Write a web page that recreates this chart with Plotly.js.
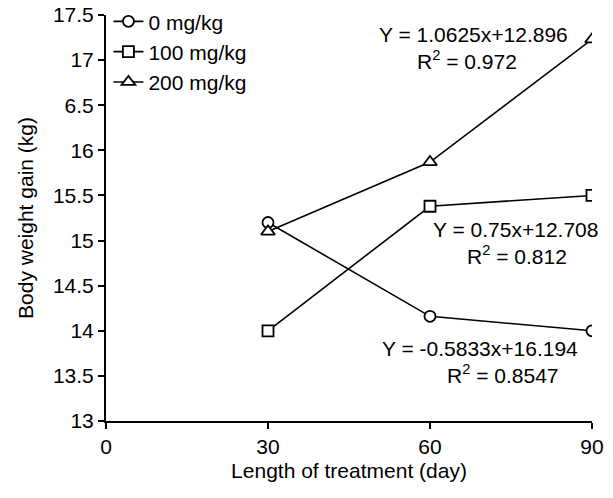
<!DOCTYPE html>
<html>
<head>
<meta charset="utf-8">
<script src="https://cdn.plot.ly/plotly-3.0.1.min.js"></script>
<style>html,body{margin:0;padding:0;background:#fff;}</style>
</head>
<body>
<div id="chart" style="width:613px;height:498px;"></div>
<script>
const days = [30, 60, 90];
const seriesNames = ["0 mg/kg", "100 mg/kg", "200 mg/kg"];
const gain0 = [15.2, 14.16, 14.0];
const gain100 = [14.0, 15.38, 15.5];
const gain200 = [15.1, 15.87, 17.23];
const yTickVals = [13, 13.5, 14, 14.5, 15, 15.5, 16, 16.5, 17, 17.5];
const yTickText = ["13", "13.5", "14", "14.5", "15", "15.5", "16", "6.5", "17", "17.5"];
const xTickVals = [0, 30, 60, 90];
const xTickText = ["0", "30", "60", "90"];
const eq200 = ["Y = 1.0625x+12.896", "R<sup>2</sup> = 0.972"];
const eq100 = ["Y = 0.75x+12.708", "R<sup>2</sup> = 0.812"];
const eq0 = ["Y = -0.5833x+16.194", "R<sup>2</sup> = 0.8547"];

const font = "Arial, 'Liberation Sans', sans-serif";
const FS = 21;
function tr(y, name, sym, size) {
  return {
    x: days, y: y, name: name, type: "scatter", mode: "lines+markers",
    line: {color: "#000", width: 1.6},
    marker: {symbol: sym, size: size, color: "#fff", line: {color: "#000", width: 1.8}}
  };
}
const data = [
  tr(gain0, seriesNames[0], "circle", 11),
  tr(gain100, seriesNames[1], "square", 11),
  tr(gain200, seriesNames[2], "triangle-up", 12)
];
function ann(x, y, text) {
  return {xref: "paper", yref: "paper", x: x, y: y, text: text, showarrow: false,
    font: {family: font, size: FS, color: "#000"}, xanchor: "center", yanchor: "middle"};
}
// paper coords: plot x 106..592 (486), y 15..421 (406)
function px(p) { return (p - 106) / 486; }
function py(p) { return (421 - p) / 406; }
const layout = {
  width: 613, height: 498,
  margin: {l: 106, r: 21, t: 15, b: 77, autoexpand: false},
  paper_bgcolor: "#fff", plot_bgcolor: "#fff",
  font: {family: font, size: FS, color: "#000"},
  showlegend: true,
  legend: {x: 0.005, y: 1.034, xanchor: "left", yanchor: "top", bgcolor: "rgba(0,0,0,0)",
    font: {family: font, size: FS}, itemwidth: 30, tracegroupgap: 0},
  xaxis: {range: [0, 90], tickvals: xTickVals, ticktext: xTickText, ticks: "outside", ticklen: 6,
    tickwidth: 2, tickcolor: "#000", showline: true, linecolor: "#000", linewidth: 2,
    showgrid: false, zeroline: false, tickfont: {size: FS}, automargin: false,
    title: {text: "Length of treatment (day)", font: {size: FS}, standoff: 6}},
  yaxis: {range: [13, 17.5], tickvals: yTickVals, ticktext: yTickText, ticks: "outside", ticklen: 6,
    tickwidth: 2, tickcolor: "#000", showline: true, linecolor: "#000", linewidth: 2,
    showgrid: false, zeroline: false, tickfont: {size: FS}, automargin: false,
    title: {text: "Body weight gain (kg)", font: {size: FS}, standoff: 14}},
  annotations: [
    ann(px(473), py(34), eq200[0]), ann(px(467), py(60), eq200[1]),
    ann(px(515), py(229), eq100[0]), ann(px(517), py(255), eq100[1]),
    ann(px(480), py(348), eq0[0]), ann(px(503), py(374), eq0[1])
  ]
};
Plotly.newPlot("chart", data, layout, {displayModeBar: false, staticPlot: true});
</script>
</body>
</html>
